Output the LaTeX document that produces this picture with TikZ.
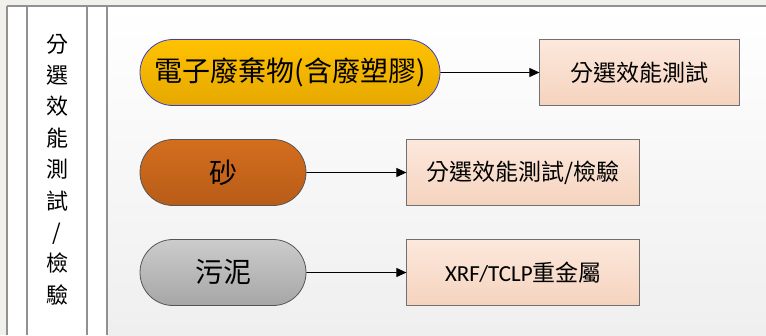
\documentclass[tikz,border=0pt]{standalone}
\usepackage{fontspec}
\setmainfont{Carlito}
\newfontfamily\cjk{Noto Sans CJK TC}
\usetikzlibrary{calc}
\usetikzlibrary{positioning}
\usetikzlibrary{shapes.misc}
\usetikzlibrary{arrows.meta}
\definecolor{outerbg}{RGB}{242,240,235}
\definecolor{panelbottom}{RGB}{239,239,239}
\definecolor{frameline}{RGB}{145,145,145}
\definecolor{goldtop}{RGB}{255,194,0}
\definecolor{goldbottom}{RGB}{230,168,0}
\definecolor{goldline}{RGB}{60,60,200}
\definecolor{sandtop}{RGB}{212,110,30}
\definecolor{sandbottom}{RGB}{184,92,24}
\definecolor{mudtop}{RGB}{204,204,204}
\definecolor{mudbottom}{RGB}{166,166,166}
\definecolor{pillline}{RGB}{85,85,85}
\definecolor{boxtop}{RGB}{252,232,220}
\definecolor{boxbottom}{RGB}{245,211,190}
\definecolor{boxline}{RGB}{112,112,112}

\begin{document}
\begin{tikzpicture}[x=1pt, y=-1pt,
                pill/.style={rounded rectangle, draw=pillline, line width=0.8pt, minimum height=66pt, inner sep=0pt, font=\cjk\fontsize{28}{32}\selectfont},
                testbox/.style={rectangle, draw=boxline, line width=1pt, top color=boxtop, bottom color=boxbottom, minimum height=66pt, inner sep=0pt, font=\cjk\fontsize{23}{28}\selectfont},
                flow/.style={-{Triangle[length=10pt,width=9pt]}, line width=0.8pt}]
                \useasboundingbox (0, 0) rectangle (766, 335);
                \fill[outerbg] (0, 0) rectangle (766, 335);
                \fill[white] (7, 6) rectangle (107, 335);
                \shade[top color=white, bottom color=panelbottom] (107, 6) rectangle (766, 335);
                \draw[frameline, line width=1.6pt] (7, 6) -- (766, 6);
                \foreach \x in {7, 27, 87, 107}
                    \draw[frameline, line width=1.6pt] (\x, 6) -- (\x, 335);

                \node (side) at (57, 169.5) [align=center, font=\cjk\fontsize{22}{31.4}\selectfont] {分\\選\\效\\能\\測\\試\\/\\檢\\驗};

                \node (ewaste) at (290, 72.5) [pill, draw=goldline, top color=goldtop, bottom color=goldbottom, minimum width=300pt] {電子廢棄物(含廢塑膠)};
                \node (sand) at (223, 172.5) [pill, top color=sandtop, bottom color=sandbottom, minimum width=166pt] {砂};
                \node (sludge) at (223, 272.5) [pill, top color=mudtop, bottom color=mudbottom, minimum width=166pt] {污泥};

                \node (sorttest) [testbox, minimum width=200pt, right=99pt of ewaste] {分選效能測試};
                \node (sortcheck) [testbox, minimum width=233pt, right=100pt of sand] {分選效能測試/檢驗};
                \node (metals) [testbox, minimum width=233pt, right=100pt of sludge] {{\fontspec{Carlito}XRF/TCLP}重金屬};

                \draw[flow] (ewaste) -- (sorttest);
                \draw[flow] (sand) -- (sortcheck);
                \draw[flow] (sludge) -- (metals);
            \end{tikzpicture}
\end{document}
